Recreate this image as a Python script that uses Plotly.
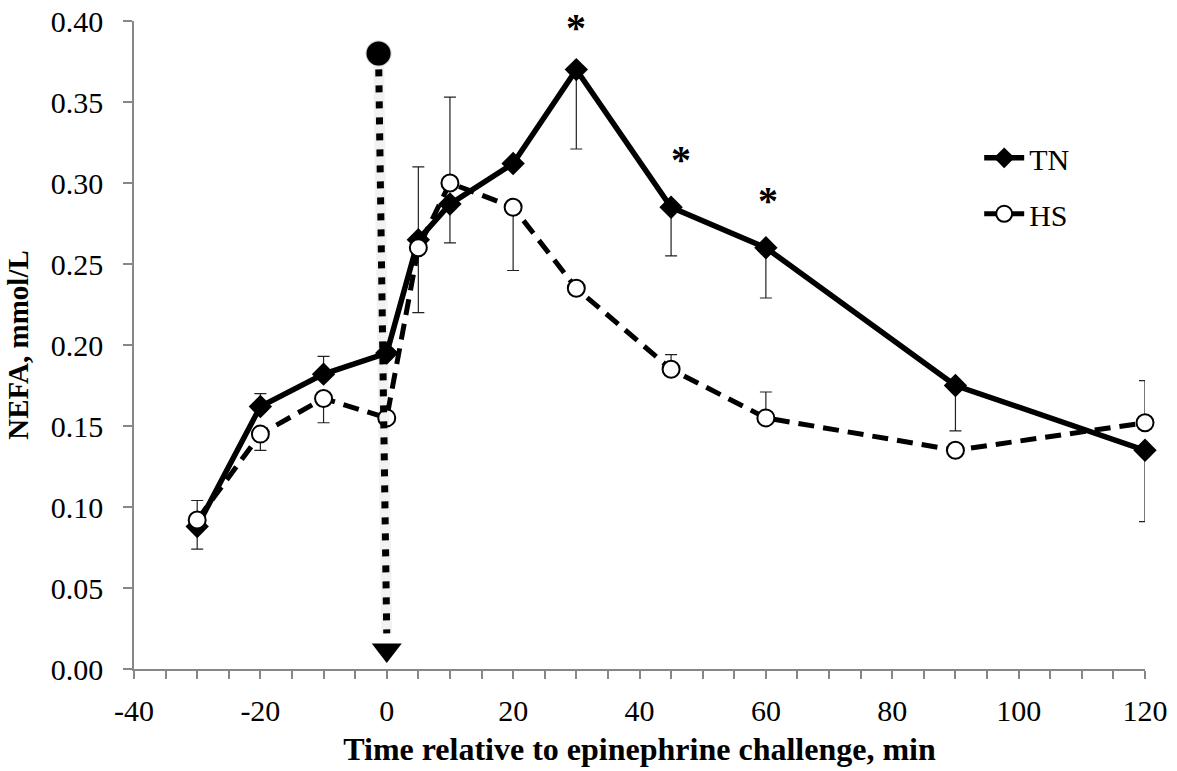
import plotly.graph_objects as go

# ---- data ----
time_min = [-30, -20, -10, 0, 5, 10, 20, 30, 45, 60, 90, 120]
tn_values = [0.088, 0.162, 0.182, 0.195, 0.265, 0.287, 0.312, 0.370, 0.285, 0.260, 0.175, 0.135]
tn_err_plus = [0, 0.008, 0.011, 0, 0.045, 0, 0, 0, 0, 0, 0, 0]
tn_err_minus = [0.014, 0, 0, 0, 0, 0.024, 0, 0.049, 0.030, 0.031, 0.028, 0.044]
hs_values = [0.092, 0.145, 0.167, 0.155, 0.260, 0.300, 0.285, 0.235, 0.185, 0.155, 0.135, 0.152]
hs_err_plus = [0.012, 0, 0, 0, 0, 0.053, 0, 0, 0.009, 0.016, 0, 0.026]
hs_err_minus = [0, 0.010, 0.015, 0, 0.040, 0, 0.039, 0, 0, 0, 0, 0]

sig_x = [30, 46.5, 60.3]
sig_y = [0.400, 0.318, 0.293]

# challenge arrow (x top, x bottom, y top, y bottom)
arrow_x_top = -1.3
arrow_x_bot = 0.0
arrow_y_top = 0.380
arrow_y_line_end = 0.022
arrow_y_head = 0.0118

x_ticks = [-40, -20, 0, 20, 40, 60, 80, 100, 120]
y_ticks = [0.00, 0.05, 0.10, 0.15, 0.20, 0.25, 0.30, 0.35, 0.40]

FONT = "Liberation Serif"
AXC = "#878787"

fig = go.Figure()

fig.add_trace(go.Scatter(
    x=time_min, y=tn_values, name="TN", mode="lines+markers",
    line=dict(color="black", width=5.5),
    marker=dict(symbol="diamond", size=18, color="black"),
    error_y=dict(type="data", symmetric=False, array=tn_err_plus, arrayminus=tn_err_minus,
                 color="#222", thickness=1.2, width=6),
    legendgroup="tn", cliponaxis=False,
))
fig.add_trace(go.Scatter(
    x=time_min, y=hs_values, name="HS", mode="lines+markers",
    line=dict(color="black", width=5, dash="16px,9px"),
    marker=dict(symbol="circle", size=17, color="white", line=dict(color="black", width=2)),
    error_y=dict(type="data", symmetric=False, array=hs_err_plus, arrayminus=hs_err_minus,
                 color="#222", thickness=1.2, width=6),
    legendgroup="hs", cliponaxis=False,
))

# arrow shadow + dotted shaft
fig.add_shape(type="line", x0=arrow_x_top, x1=arrow_x_bot, y0=arrow_y_top, y1=arrow_y_line_end,
              xref="x", yref="y", line=dict(color="rgba(0,0,0,0.05)", width=11))
fig.add_shape(type="line", x0=arrow_x_top, x1=arrow_x_bot, y0=arrow_y_top, y1=arrow_y_line_end,
              xref="x", yref="y", line=dict(color="black", width=7, dash="7px,9px"))
fig.add_trace(go.Scatter(
    x=[arrow_x_top], y=[arrow_y_top], mode="markers", showlegend=False, hoverinfo="skip",
    marker=dict(symbol="circle", size=24, color="black", line=dict(color="rgba(0,0,0,0.2)", width=2)),
    cliponaxis=False,
))
fig.add_trace(go.Scatter(
    x=[arrow_x_bot], y=[arrow_y_head], mode="markers", showlegend=False, hoverinfo="skip",
    marker=dict(symbol="triangle-down", size=26, color="black"),
    cliponaxis=False,
))

for sx, sy in zip(sig_x, sig_y):
    fig.add_annotation(x=sx, y=sy, text="<b>*</b>", showarrow=False, yshift=-6,
                       font=dict(family=FONT, size=40, color="black"))

fig.update_layout(
    width=1177, height=771,
    margin=dict(l=134, r=32, t=21, b=102, autoexpand=False),
    paper_bgcolor="white", plot_bgcolor="white",
    font=dict(family=FONT, size=30, color="black"),
    showlegend=True,
    legend=dict(x=0.836, y=0.829, xanchor="left", yanchor="top",
                bgcolor="rgba(0,0,0,0)", font=dict(family=FONT, size=30),
                traceorder="grouped", tracegroupgap=14, itemwidth=40),
    xaxis=dict(
        range=[-40, 120], tickvals=x_ticks, ticktext=[str(v) for v in x_ticks],
        showline=True, linecolor=AXC, linewidth=1.5, showgrid=False, zeroline=False,
        ticks="outside", ticklen=8, tickcolor=AXC, tickwidth=1.5, automargin=False,
        minor=dict(dtick=5, ticks="outside", ticklen=8, tickcolor=AXC, tickwidth=1.5),
        tickfont=dict(family=FONT, size=30, color="black"), ticklabelstandoff=6,
        title=dict(text="<b>Time relative to epinephrine challenge, min</b>",
                   font=dict(family=FONT, size=32), standoff=12),
    ),
    yaxis=dict(
        range=[0, 0.40], tickvals=y_ticks, ticktext=[f"{v:.2f}" for v in y_ticks],
        showline=True, linecolor=AXC, linewidth=1.5, showgrid=False, zeroline=False,
        ticks="outside", ticklen=9, tickcolor=AXC, tickwidth=1.5, automargin=False,
        tickfont=dict(family=FONT, size=30, color="black"), ticklabelstandoff=14,
        title=dict(text="<b>NEFA, mmol/L</b>", font=dict(family=FONT, size=29), standoff=14),
    ),
)

fig.write_html("out.html")
